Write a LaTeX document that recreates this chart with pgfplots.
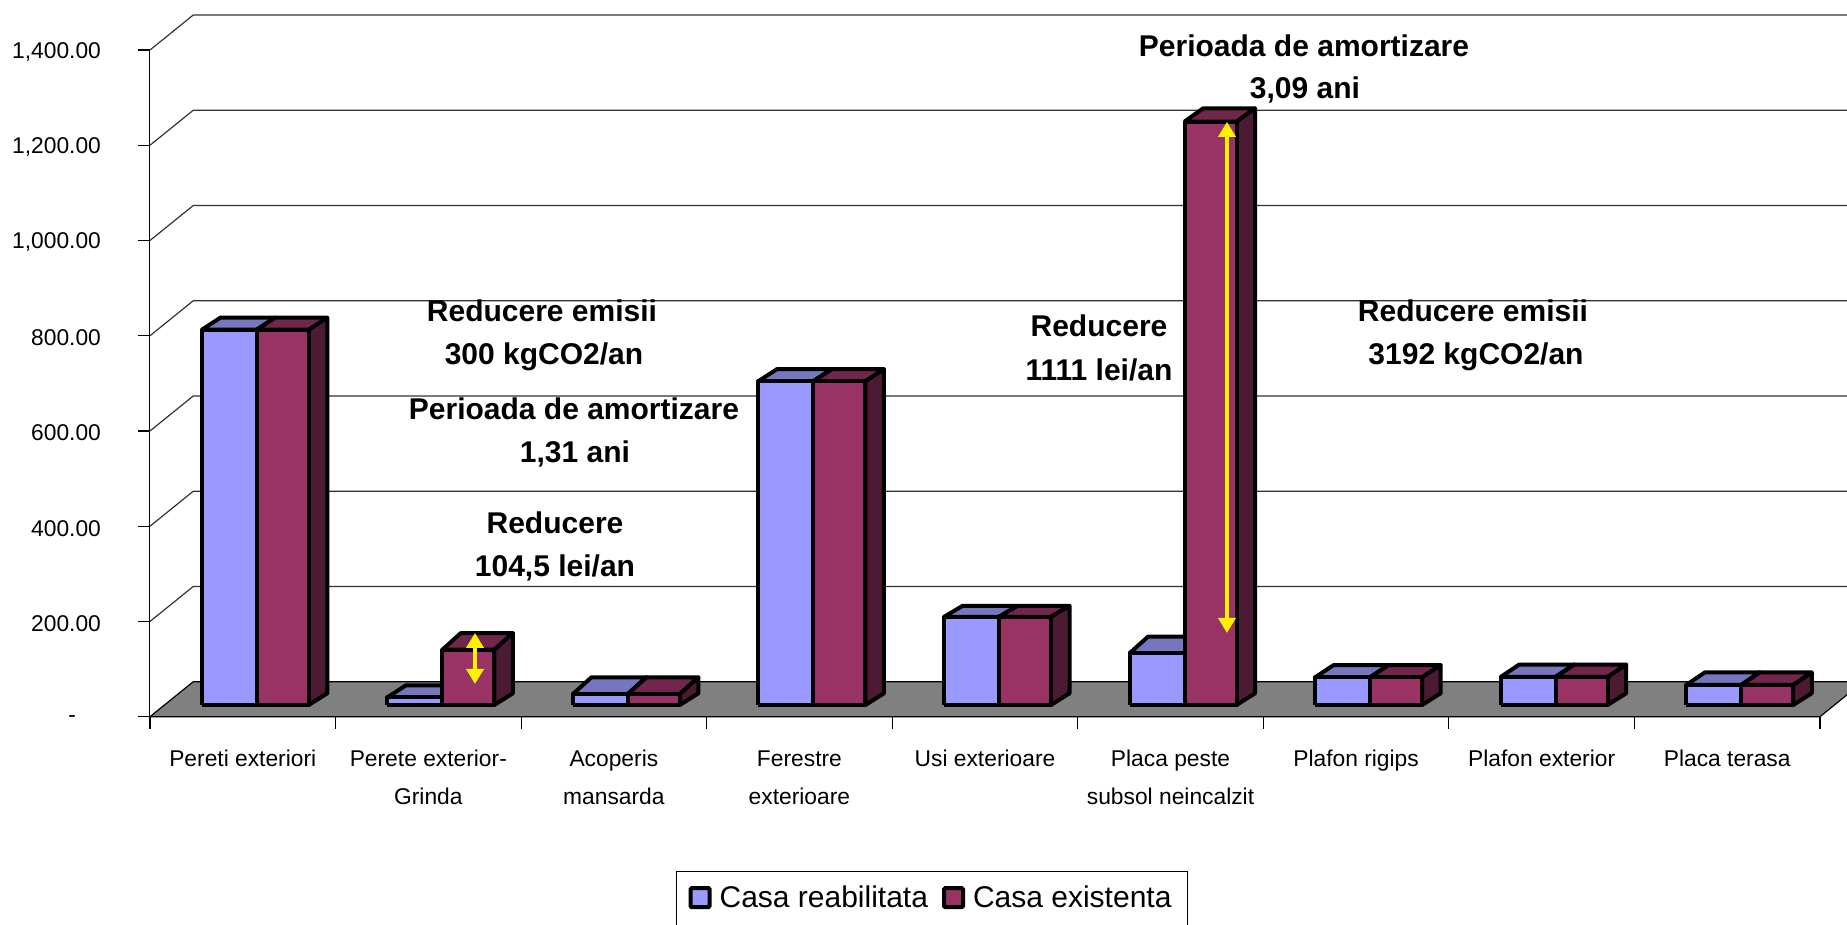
\documentclass[border=0pt]{standalone}
\usepackage{pgfplots}
\usepackage{pgfplotstable}
\usepackage{fontspec}
\setmainfont{Liberation Sans}
\pgfplotsset{compat=1.18}
\usetikzlibrary{arrows.meta}
\definecolor{bf}{HTML}{9999FF}
\definecolor{bt}{HTML}{7676BF}
\definecolor{rf}{HTML}{993366}
\definecolor{rt}{HTML}{73264D}
\definecolor{rs}{HTML}{4D1A33}
\definecolor{floorg}{HTML}{808080}
% cat = category position; blue, red = values; tb, tr = depth of top face in px
\pgfplotstableread{
cat blue red tb tr
0 788 788 12 12
1 16 116 12 16.7
2 23 23 16.7 16.7
3 680 680 12 12
4 185 185 11 11
5 108.6 1225 16.7 13.3
6 58 58 12.3 12.3
7 59 59 12.3 12.3
8 42 42 12.5 12.5
}\bardata
\newcommand\pxy{2.1008}
\newcommand\onebar[7]{% xl xr val topdepthpx front top side
  \pgfmathsetmacro\xa{#1}\pgfmathsetmacro\xb{#2}
  \pgfmathsetmacro\yb{24.6}\pgfmathsetmacro\yt{#3+24.6}
  \pgfmathsetmacro\xc{\xa+0.1}\pgfmathsetmacro\xd{\xb+0.1}
  \pgfmathsetmacro\yc{\yt+#4*\pxy}\pgfmathsetmacro\yd{\yb+11.7*\pxy}
  \edef\next{\noexpand\addplot[forget plot,draw=black,line width=2pt,line join=round,fill=#6] coordinates {(\xa,\yt)(\xc,\yc)(\xd,\yc)(\xb,\yt)(\xa,\yt)};
  \noexpand\addplot[forget plot,draw=black,line width=2pt,line join=round,fill=#7] coordinates {(\xb,\yt)(\xd,\yc)(\xd,\yd)(\xb,\yb)(\xb,\yt)};
  \noexpand\addplot[forget plot,draw=black,line width=2pt,line join=round,fill=#5] coordinates {(\xa,\yb)(\xa,\yt)(\xb,\yt)(\xb,\yb)(\xa,\yb)};}\next}
\begin{document}
\begin{tikzpicture}
\path[use as bounding box] (-75pt,358.35pt) rectangle (848.5pt,-104.15pt);
\clip (-75pt,358.35pt) rectangle (848.5pt,-104.15pt);
\begin{axis}[
  scale only axis, width=835pt, height=333.35pt,
  xmin=0, xmax=9, ymin=0, ymax=1400,
  clip=false, no markers,
  axis lines*=left, axis line style={-,black,line width=0.5pt},
  tick align=outside, major tick length=6pt,
  tick style={black,line width=0.6pt},
  xtick={0,...,9}, xticklabels={},
  extra x ticks={0.5,1.5,2.5,3.5,4.5,5.5,6.5,7.5,8.5},
  extra x tick labels={\strut Pereti exteriori,{\strut Perete exterior-\\Grinda},{\strut Acoperis\\mansarda},{\strut Ferestre\\exterioare},\strut Usi exterioare,{\strut Placa peste\\subsol neincalzit},\strut Plafon rigips,\strut Plafon exterior,\strut Placa terasa},
  extra x tick style={major tick length=0pt,xticklabel style={yshift=-8pt}},
  xticklabel style={align=center,font=\fontsize{11.4}{19}\selectfont,anchor=north,text depth=0pt},
  ytick={0,200,400,600,800,1000,1200,1400},
  yticklabels={{-\rule{12.5pt}{0pt}},200.00,400.00,600.00,800.00,{1,000.00},{1,200.00},{1,400.00}},
  yticklabel style={font=\fontsize{11.4}{14}\selectfont,anchor=east,xshift=-15pt,yshift=-1pt},
  legend style={at={(0.4683,-0.2314)},anchor=north,draw=black,line width=0.5pt,inner xsep=6pt,inner ysep=5.2pt,font=\fontsize{15}{18}\selectfont,legend columns=2,legend cell align=left,/tikz/every even column/.append style={column sep=5pt}},
]
% floor
\addplot[forget plot,fill=floorg,draw=black,line width=0.6pt] coordinates {(0,0)(9,0)(9.2333,73.5)(0.2333,73.5)(0,0)};
% grid lines on side and back walls
\pgfplotsinvokeforeach{200,400,600,800,1000,1200,1400}{
  \addplot[forget plot,black!80,line width=0.6pt] coordinates {(0,#1)(0.2333,#1+73.5)(9.2333,#1+73.5)};
}
\pgfplotstablegetrowsof{\bardata}
\pgfplotsinvokeforeach{0,...,8}{
  \pgfplotstablegetelem{#1}{blue}\of\bardata \let\vb\pgfplotsretval
  \pgfplotstablegetelem{#1}{red}\of\bardata \let\vr\pgfplotsretval
  \pgfplotstablegetelem{#1}{tb}\of\bardata \let\db\pgfplotsretval
  \pgfplotstablegetelem{#1}{tr}\of\bardata \let\dr\pgfplotsretval
  \onebar{#1+0.5+0.0754-0.2964}{#1+0.5+0.0754}{\vb}{\db}{bf}{bt}{bt}
  \onebar{#1+0.5+0.0754}{#1+0.5+0.0754+0.2802}{\vr}{\dr}{rf}{rt}{rs}
}
% yellow arrows
\addplot[forget plot,yellow,line width=2.4pt,{Triangle[width=8.5pt,length=7.5pt]}-{Triangle[width=8.5pt,length=7.5pt]}] coordinates {(1.7515,175.8)(1.7515,68.7)};
\addplot[forget plot,yellow,line width=2.4pt,{Triangle[width=8.5pt,length=7.5pt]}-{Triangle[width=8.5pt,length=7.5pt]}] coordinates {(5.804,1249)(5.804,175.8)};
% legend
\addlegendimage{legend image code/.code={\path[draw=none] (0pt,0pt) -- (12.5pt,0pt);\draw[fill=bf,draw=black,line width=2pt,rounded corners=0.6pt] (0pt,-4.5pt) rectangle (9.5pt,5pt);}}
\addlegendentry{Casa reabilitata}
\addlegendimage{legend image code/.code={\path[draw=none] (0pt,0pt) -- (12.5pt,0pt);\draw[fill=rf,draw=black,line width=2pt,rounded corners=0.6pt] (0pt,-4.5pt) rectangle (9.5pt,5pt);}}
\addlegendentry{Casa existenta}
\end{axis}
\begin{scope}[x=.5pt,y=-.5pt,shift={(-150,-716.7)},every node/.style={font=\fontsize{15}{18}\selectfont\bfseries,anchor=base,inner sep=0pt}]
\node at (542,321.5) {Reducere emisii};
\node at (544,364.5) {300 kgCO2/an};
\node at (574,420) {Perioada de amortizare};
\node at (575,463) {1,31 ani};
\node at (555,534) {Reducere};
\node at (555,577) {104,5 lei/an};
\node at (1304,57) {Perioada de amortizare};
\node at (1305,99) {3,09 ani};
\node at (1099,336.5) {Reducere};
\node at (1099,381) {1111 lei/an};
\node at (1473,321.5) {Reducere emisii};
\node at (1476,364.5) {3192 kgCO2/an};
\end{scope}
\end{tikzpicture}
\end{document}
